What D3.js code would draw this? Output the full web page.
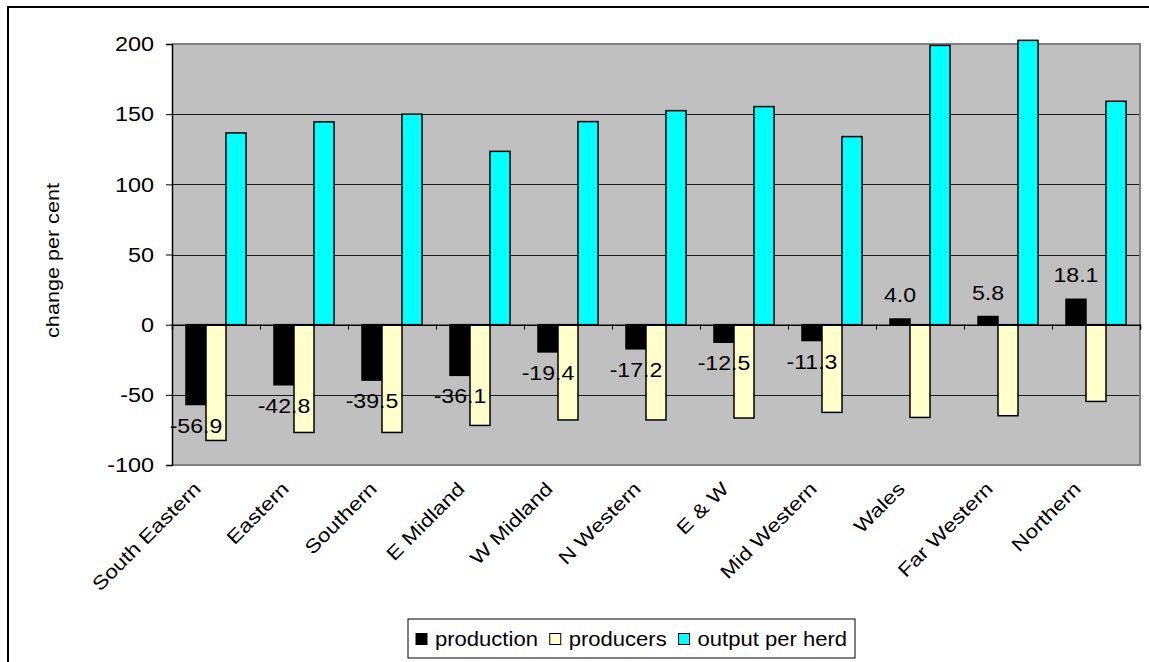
<!DOCTYPE html>
<html>
<head>
<meta charset="utf-8">
<script src="https://cdn.jsdelivr.net/npm/d3@7/dist/d3.min.js"></script>
<style>
  body { margin: 0; background: #fff; }
  svg { display: block; font-family: "Liberation Sans", Arial, sans-serif; }
</style>
</head>
<body>
<div id="chart"></div>
<script>
const regions = ["South Eastern", "Eastern", "Southern", "E Midland", "W Midland", "N Western",
  "E & W", "Mid Western", "Wales", "Far Western", "Northern"];
const production = [-56.9, -42.8, -39.5, -36.1, -19.4, -17.2, -12.5, -11.3, 4.0, 5.8, 18.1];
const producers = [-82.5, -76.8, -76.8, -71.8, -67.9, -67.9, -66.5, -62.5, -66.1, -64.9, -54.7];
const outputPerHerd = [136.6, 144.5, 150.0, 123.5, 144.7, 152.5, 155.4, 134.0, 199.0, 202.6, 159.2];
const seriesNames = ["production", "producers", "output per herd"];
const seriesColors = ["#000000", "#ffffcc", "#00ffff"];
const yTicks = [-100, -50, 0, 50, 100, 150, 200];
const yTitle = "change per cent";

const W = 1149, H = 662;
const plot = { left: 172, right: 1140, top: 44, bottom: 465 };

const svg = d3.select("#chart").append("svg")
  .attr("width", W)
  .attr("height", H);

// outer frame (runs off the right and bottom edges like the source)
svg.append("rect")
  .attr("x", 8).attr("y", 7)
  .attr("width", 1200).attr("height", 700)
  .attr("fill", "#fff")
  .attr("stroke", "#000")
  .attr("stroke-width", 2);

const x0 = d3.scaleBand()
  .domain(regions)
  .range([plot.left, plot.right])
  .paddingInner(0.318)
  .paddingOuter(0.159);

const x1 = d3.scaleBand()
  .domain(seriesNames)
  .range([0, x0.bandwidth()]);

const y = d3.scaleLinear()
  .domain([-100, 200])
  .range([plot.bottom, plot.top]);

const xb = d3.scaleLinear()
  .domain([0, regions.length])
  .range([plot.left, plot.right]);

// plot background
svg.append("rect")
  .attr("x", plot.left).attr("y", plot.top)
  .attr("width", plot.right - plot.left)
  .attr("height", plot.bottom - plot.top)
  .attr("fill", "#c0c0c0");

// gridlines
svg.append("g")
  .selectAll("line")
  .data(yTicks.filter(t => t !== -100 && t !== 200 && t !== 0))
  .join("line")
  .attr("x1", plot.left).attr("x2", plot.right)
  .attr("y1", d => Math.round(y(d)) + 0.5)
  .attr("y2", d => Math.round(y(d)) + 0.5)
  .attr("stroke", "#1a1a1a")
  .attr("stroke-width", 1);

// plot border (grey)
svg.append("path")
  .attr("d", `M${plot.left},${plot.top}H${plot.right}V${plot.bottom}H${plot.left}`)
  .attr("fill", "none")
  .attr("stroke", "#808080")
  .attr("stroke-width", 2);

// bars
const rows = regions.map((r, i) => ({
  region: r,
  values: [production[i], producers[i], outputPerHerd[i]]
}));

const groups = svg.append("g")
  .selectAll("g")
  .data(rows)
  .join("g")
  .attr("transform", d => `translate(${x0(d.region)},0)`);

groups.selectAll("rect")
  .data(d => d.values.map((v, k) => ({ key: seriesNames[k], value: v, k })))
  .join("rect")
  .attr("x", d => x1(d.key))
  .attr("y", d => y(Math.max(0, d.value)))
  .attr("width", x1.bandwidth())
  .attr("height", d => Math.abs(y(d.value) - y(0)))
  .attr("fill", d => seriesColors[d.k])
  .attr("stroke", "#000")
  .attr("stroke-width", 1.5);

// y axis
const yAxis = svg.append("g")
  .attr("transform", `translate(${plot.left},0)`)
  .call(d3.axisLeft(y).tickValues(yTicks).tickSize(6).tickFormat(d3.format("d")));
yAxis.select(".domain").attr("stroke", "#000").attr("stroke-width", 1.5);
yAxis.selectAll(".tick line").attr("stroke", "#000");
yAxis.selectAll(".tick text")
  .attr("x", null)
  .attr("dy", "0.35em")
  .attr("font-size", 19.5)
  .attr("font-family", null)
  .attr("fill", "#000")
  .attr("text-anchor", "end")
  .attr("transform", "translate(-18,0) scale(1.2,1)")
  .text(d => d < 0 ? "-" + Math.abs(d) : d);

// x axis at zero, ticks at category boundaries
const xAxis = svg.append("g")
  .attr("transform", `translate(0,${y(0)})`)
  .call(d3.axisBottom(xb).tickValues(d3.range(regions.length + 1)).tickSize(5).tickFormat(""));
xAxis.select(".domain").attr("stroke", "#000").attr("stroke-width", 1.5);
xAxis.selectAll(".tick line").attr("stroke", "#000");

// category labels
svg.append("g")
  .selectAll("text")
  .data(regions)
  .join("text")
  .attr("text-anchor", "end")
  .attr("font-size", 19)
  .attr("transform", d => `translate(${x0(d) + x0.bandwidth() / 2 - 14},${plot.bottom + 25}) rotate(-45) scale(1.2,1)`)
  .text(d => d);

// data labels on production bars
const fmt = d3.format(".1f");
svg.append("g")
  .selectAll("text")
  .data(rows)
  .join("text")
  .attr("text-anchor", "middle")
  .attr("font-size", 21)
  .attr("transform", d => {
    const cx = x0(d.region) + x1("production") + x1.bandwidth() / 2;
    const v = d.values[0];
    const ty = v < 0 ? y(v) + 28 : y(v) - 17;
    return `translate(${cx},${ty}) scale(1.1,1)`;
  })
  .text(d => fmt(d.values[0]).replace("\u2212", "-"));

// y axis title
svg.append("text")
  .attr("text-anchor", "middle")
  .attr("font-size", 18)
  .attr("transform", `translate(59,${(plot.top + plot.bottom) / 2 + 6}) rotate(-90) scale(1.2,1)`)
  .text(yTitle);

// legend
const legendBox = { x: 408, y: 619, w: 447, h: 39 };
const legend = svg.append("g");
legend.append("rect")
  .attr("x", legendBox.x).attr("y", legendBox.y)
  .attr("width", legendBox.w).attr("height", legendBox.h)
  .attr("fill", "#fff")
  .attr("stroke", "#000")
  .attr("stroke-width", 1);

const ly = legendBox.y + legendBox.h / 2;
const items = seriesNames.map((name, k) => {
  const item = legend.append("g");
  item.append("rect")
    .attr("x", 0).attr("y", ly - 5)
    .attr("width", 11).attr("height", 11)
    .attr("fill", seriesColors[k])
    .attr("stroke", "#000")
    .attr("stroke-width", 1);
  const t = item.append("text")
    .attr("font-size", 21)
    .attr("transform", `translate(19,${ly}) scale(1.05,1)`)
    .attr("dy", "0.36em")
    .text(name);
  return { item, w: 19 + t.node().getComputedTextLength() * 1.05 };
});
const pad = 8;
const used = d3.sum(items, d => d.w);
const gap = (legendBox.w - 2 * pad - used) / (items.length - 1);
let lx = legendBox.x + pad;
items.forEach(d => {
  d.item.attr("transform", `translate(${lx},0)`);
  lx += d.w + gap;
});
</script>
</body>
</html>
